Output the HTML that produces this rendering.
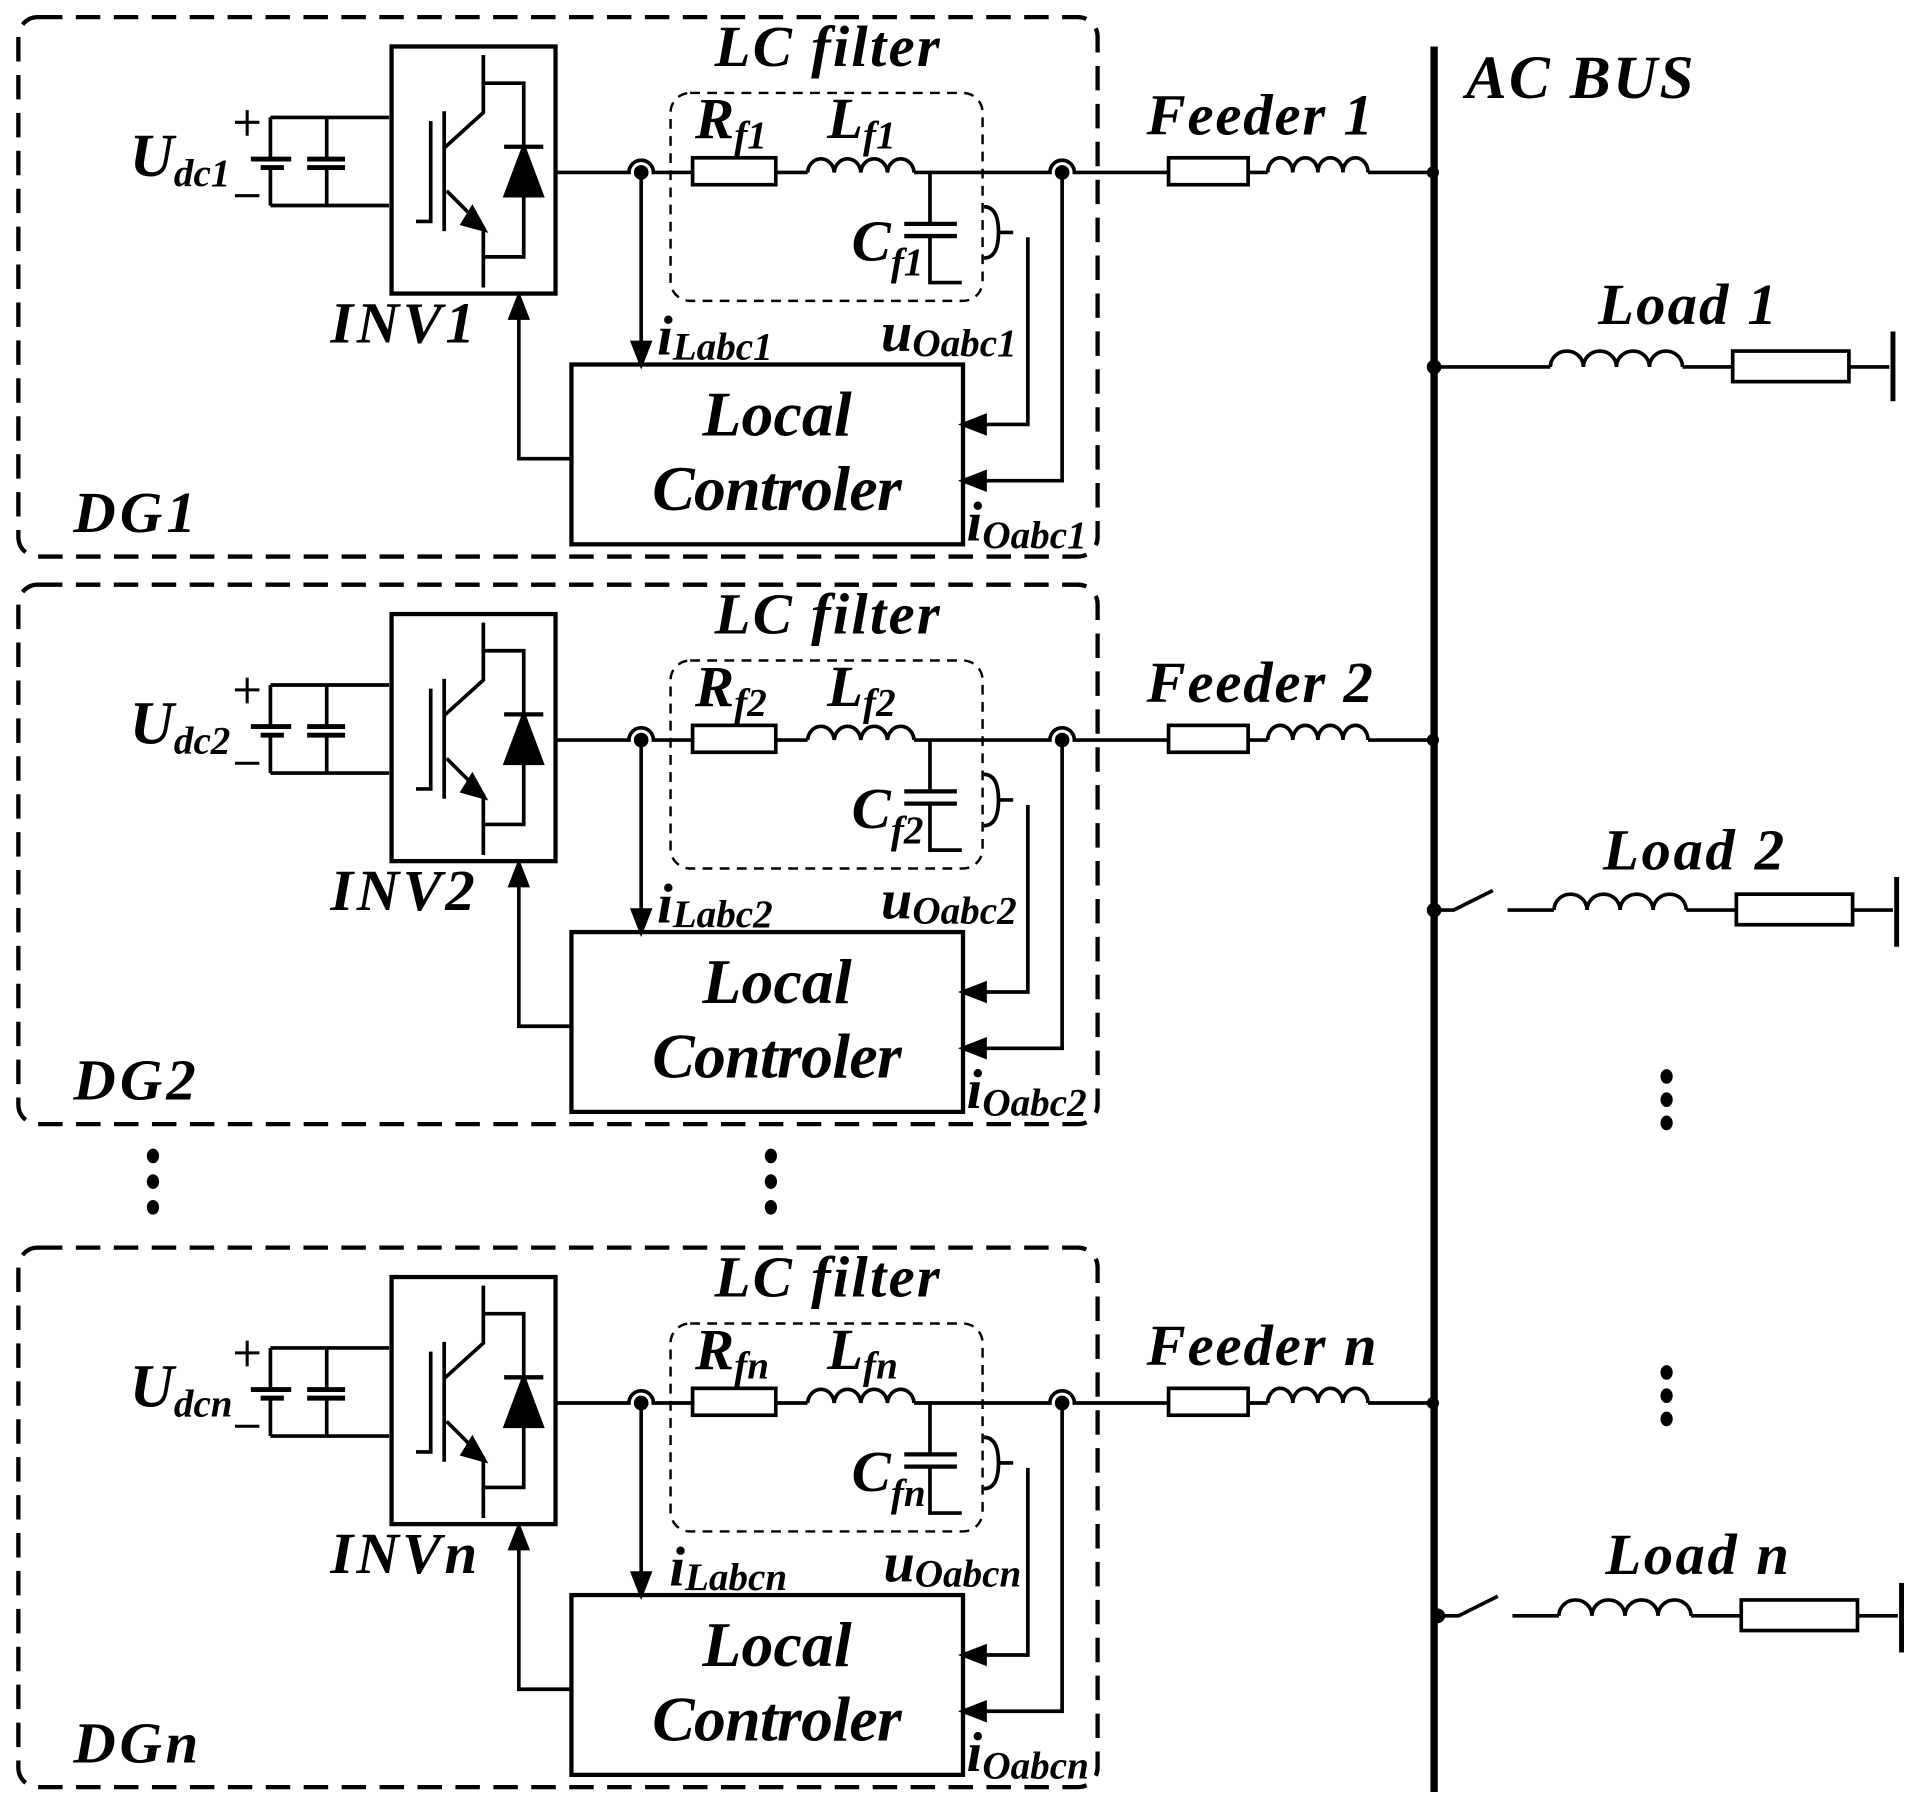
<!DOCTYPE html>
<html><head><meta charset="utf-8"><style>
html,body{margin:0;padding:0;background:#fff}
svg{display:block}
text{font-family:"Liberation Serif",serif;font-style:italic;font-weight:bold;fill:#000}
</style></head><body>
<svg width="1915" height="1803" viewBox="0 0 1565 1474" preserveAspectRatio="none" xmlns="http://www.w3.org/2000/svg">
<defs>
<g id="dg" fill="none" stroke="#000" stroke-width="3">
  <rect x="15" y="14" width="882" height="441" rx="16" stroke-dasharray="20 11" stroke-width="3.5"/>
  <rect x="548" y="76" width="255" height="170" rx="16" stroke-dasharray="8 6" stroke-width="2"/>
  <path d="M221 96 H318 M221 168 H318 M221 96 V130 M221 137 V168 M267 96 V130 M267 137 V168"/>
  <path d="M205 130 H238 M213 137 H232 M251 130 H282 M251 137 H282" stroke-width="4"/>
  <path d="M192 100 H212 M202 90 V111 M192 160 H212" stroke-width="2.5"/>
  <rect x="320" y="38" width="134" height="202" stroke-width="3.5"/>
  <path d="M352 99 V181 H340 M363 91 V189 M395 45 V92 L363 121 M365 156 L395 186 V235 M395 68 H428 V210 H395"/>
  <path d="M386 170 L396 188 L378 183 Z" fill="#000"/>
  <path d="M412 120 H444" stroke-width="3.5"/>
  <path d="M428 120 L413 160 H443 Z" fill="#000"/>
  <path d="M454 141 H514 A10 10 0 0 1 534 141 H566 M634 141 H660 M747 141 H858 A10 10 0 0 1 878 141 H955 M1020 141 H1036 M1118 141 H1170"/>
  <rect x="566" y="129" width="68" height="22"/>
  <path d="M660 141 a10.9 12 0 0 1 21.75 0 a10.9 12 0 0 1 21.75 0 a10.9 12 0 0 1 21.75 0 a10.9 12 0 0 1 21.75 0"/>
  <rect x="955" y="129" width="65" height="22"/>
  <path d="M1036 141 a10.25 12 0 0 1 20.5 0 a10.25 12 0 0 1 20.5 0 a10.25 12 0 0 1 20.5 0 a10.25 12 0 0 1 20.5 0"/>
  <circle cx="524" cy="141" r="4.5" fill="#000"/>
  <circle cx="868" cy="141" r="4.5" fill="#000"/>
  <circle cx="1171" cy="141" r="5" fill="#000" stroke="none"/>
  <path d="M760 141 V183 M760 193 V231 H786"/>
  <path d="M739 183 H782 M739 193 H782" stroke-width="3.5"/>
  <path d="M804 169 q12 0 12 21 q0 21 -12 21 M816 190 H828"/>
  <path d="M524 141 V290"/>
  <path d="M517 280 L524 298 L531 280 Z" fill="#000"/>
  <path d="M840 194 V347 H797"/>
  <path d="M805 340 L787 347 L805 354 Z" fill="#000"/>
  <path d="M868 141 V393 H797"/>
  <path d="M805 386 L787 393 L805 400 Z" fill="#000"/>
  <rect x="467" y="298" width="320" height="147" stroke-width="3.5"/>
  <path d="M467 375 H424 V250"/>
  <path d="M417 260 L424 242 L431 260 Z" fill="#000"/>
</g>
</defs>

<use href="#dg"/>
<use href="#dg" y="464"/>
<use href="#dg" y="1006"/>

<path d="M1172 38 V1465" stroke="#000" stroke-width="6"/>
<g fill="none" stroke="#000" stroke-width="3">
  <path d="M1172 300 H1267 M1375 300 H1416 M1511 300 H1544"/>
  <path d="M1267 300 a13.5 13 0 0 1 27 0 a13.5 13 0 0 1 27 0 a13.5 13 0 0 1 27 0 a13.5 13 0 0 1 27 0"/>
  <rect x="1416" y="287" width="95" height="25"/>
  <path d="M1547 271 V328" stroke-width="4"/>
  <path d="M1172 744 H1188 L1220 728 M1232 744 H1270 M1378 744 H1419 M1514 744 H1547"/>
  <path d="M1270 744 a13.5 13 0 0 1 27 0 a13.5 13 0 0 1 27 0 a13.5 13 0 0 1 27 0 a13.5 13 0 0 1 27 0"/>
  <rect x="1419" y="731" width="95" height="25"/>
  <path d="M1550 717 V774" stroke-width="4"/>
  <path d="M1172 1321 H1192 L1224 1305 M1236 1321 H1274 M1382 1321 H1423 M1518 1321 H1551"/>
  <path d="M1274 1321 a13.5 13 0 0 1 27 0 a13.5 13 0 0 1 27 0 a13.5 13 0 0 1 27 0 a13.5 13 0 0 1 27 0"/>
  <rect x="1423" y="1308" width="95" height="25"/>
  <path d="M1554 1294 V1351" stroke-width="4"/>
</g>
<g fill="#000">
  <circle cx="1172" cy="300" r="6"/><circle cx="1172" cy="744" r="6"/><circle cx="1175" cy="1321" r="6"/>
  <ellipse cx="1362" cy="880" rx="5" ry="6"/><ellipse cx="1362" cy="899" rx="5" ry="6"/><ellipse cx="1362" cy="918" rx="5" ry="6"/>
  <ellipse cx="1362" cy="1122" rx="5" ry="6"/><ellipse cx="1362" cy="1141" rx="5" ry="6"/><ellipse cx="1362" cy="1160" rx="5" ry="6"/>
  <ellipse cx="125" cy="945" rx="5" ry="6"/><ellipse cx="125" cy="966" rx="5" ry="6"/><ellipse cx="125" cy="987" rx="5" ry="6"/>
  <ellipse cx="630" cy="945" rx="5" ry="6"/><ellipse cx="630" cy="966" rx="5" ry="6"/><ellipse cx="630" cy="987" rx="5" ry="6"/>
</g>

<text x="1198" y="80" font-size="50" textLength="186">AC BUS</text>
<text x="1306" y="265" font-size="48" textLength="146">Load 1</text>
<text x="1310" y="711" font-size="48" textLength="148">Load 2</text>
<text x="1312" y="1287" font-size="48" textLength="150">Load n</text>

<g id="t1">
<text x="584" y="54" font-size="48" textLength="184">LC filter</text>
<text x="106" y="144" font-size="50">U<tspan font-size="32" dy="8">dc1</tspan></text>
<text x="568" y="113" font-size="48">R<tspan font-size="32" dy="8">f1</tspan></text>
<text x="676" y="113" font-size="48">L<tspan font-size="32" dy="8">f1</tspan></text>
<text x="696" y="213" font-size="48">C<tspan font-size="32" dy="12">f1</tspan></text>
<text x="270" y="280" font-size="48" textLength="118">INV1</text>
<text x="537" y="290" font-size="46">i<tspan font-size="32" dy="4">Labc1</tspan></text>
<text x="720" y="287" font-size="46">u<tspan font-size="32" dy="4">Oabc1</tspan></text>
<text x="790" y="442" font-size="46">i<tspan font-size="32" dy="6">Oabc1</tspan></text>
<text x="574" y="356" font-size="52" textLength="122">Local</text>
<text x="533" y="417" font-size="52" textLength="204">Controler</text>
<text x="60" y="435" font-size="48" textLength="100">DG1</text>
<text x="937" y="110" font-size="48" textLength="185">Feeder 1</text>
</g>
<g transform="translate(0,464)">
<text x="584" y="54" font-size="48" textLength="184">LC filter</text>
<text x="106" y="144" font-size="50">U<tspan font-size="32" dy="8">dc2</tspan></text>
<text x="568" y="113" font-size="48">R<tspan font-size="32" dy="8">f2</tspan></text>
<text x="676" y="113" font-size="48">L<tspan font-size="32" dy="8">f2</tspan></text>
<text x="696" y="213" font-size="48">C<tspan font-size="32" dy="12">f2</tspan></text>
<text x="270" y="280" font-size="48" textLength="118">INV2</text>
<text x="537" y="290" font-size="46">i<tspan font-size="32" dy="4">Labc2</tspan></text>
<text x="720" y="287" font-size="46">u<tspan font-size="32" dy="4">Oabc2</tspan></text>
<text x="790" y="442" font-size="46">i<tspan font-size="32" dy="6">Oabc2</tspan></text>
<text x="574" y="356" font-size="52" textLength="122">Local</text>
<text x="533" y="417" font-size="52" textLength="204">Controler</text>
<text x="60" y="435" font-size="48" textLength="100">DG2</text>
<text x="937" y="110" font-size="48" textLength="185">Feeder 2</text>
</g>
<g transform="translate(0,1006)">
<text x="584" y="54" font-size="48" textLength="184">LC filter</text>
<text x="106" y="144" font-size="50">U<tspan font-size="32" dy="8">dcn</tspan></text>
<text x="568" y="113" font-size="48">R<tspan font-size="32" dy="8">fn</tspan></text>
<text x="676" y="113" font-size="48">L<tspan font-size="32" dy="8">fn</tspan></text>
<text x="696" y="213" font-size="48">C<tspan font-size="32" dy="12">fn</tspan></text>
<text x="270" y="280" font-size="48" textLength="120">INVn</text>
<text x="547" y="290" font-size="46">i<tspan font-size="32" dy="4">Labcn</tspan></text>
<text x="722" y="287" font-size="46">u<tspan font-size="32" dy="4">Oabcn</tspan></text>
<text x="790" y="442" font-size="46">i<tspan font-size="32" dy="6">Oabcn</tspan></text>
<text x="574" y="356" font-size="52" textLength="122">Local</text>
<text x="533" y="417" font-size="52" textLength="204">Controler</text>
<text x="60" y="435" font-size="48" textLength="102">DGn</text>
<text x="937" y="110" font-size="48" textLength="188">Feeder n</text>
</g>
</svg>
</body></html>
